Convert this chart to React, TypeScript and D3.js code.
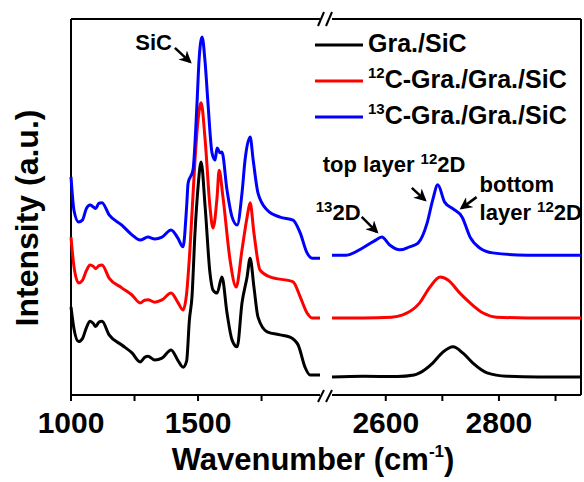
import * as d3 from 'd3'

// Raman spectra, intensity in a.u. (curves already stacked)
const blackLeft: [number, number][] = [
  [1000, 23.4], [1012, 17.5], [1030, 14.2], [1045, 15.0], [1060, 17.8], [1075, 19.6], [1088, 19.0],
  [1097, 18.2], [1110, 19.4], [1122, 19.6], [1150, 16.0], [1200, 13.3], [1240, 11.2], [1272, 8.8],
  [1290, 10.0], [1303, 10.3], [1330, 9.3], [1358, 9.8], [1394, 12.0], [1420, 9.3], [1441, 7.4],
  [1455, 9.0], [1466, 20.0], [1476, 26.0], [1488, 43.1], [1500, 55.3], [1512, 62.0], [1528, 50.0],
  [1547, 32.4], [1559, 27.9], [1575, 27.1], [1594, 31.4], [1614, 21.8], [1634, 14.6], [1654, 12.8],
  [1673, 24.5], [1693, 31.4], [1705, 36.4], [1720, 28.7], [1736, 20.7], [1772, 16.8], [1823, 16.0],
  [1862, 15.4], [1894, 13.3], [1921, 7.4], [1941, 5.3], [1980, 5.3]
]
const redLeft: [number, number][] = [
  [1000, 42.0], [1012, 34.0], [1030, 29.8], [1045, 30.5], [1060, 33.0], [1075, 34.6], [1088, 34.2],
  [1097, 33.6], [1110, 34.4], [1122, 34.6], [1150, 31.1], [1200, 28.5], [1240, 26.6], [1272, 24.5],
  [1290, 25.2], [1303, 25.3], [1330, 24.7], [1358, 25.3], [1394, 27.1], [1420, 24.7], [1441, 22.6],
  [1455, 27.0], [1468, 38.6], [1488, 62.5], [1500, 73.1], [1512, 77.7], [1528, 67.8], [1547, 50.0],
  [1559, 44.4], [1575, 52.7], [1583, 59.8], [1598, 52.7], [1626, 35.9], [1650, 28.7], [1673, 38.6],
  [1693, 47.3], [1705, 51.1], [1720, 43.1], [1744, 33.2], [1783, 31.4], [1874, 30.1], [1902, 26.1],
  [1929, 21.8], [1949, 20.5], [1980, 20.5]
]
const blueLeft: [number, number][] = [
  [1000, 58.0], [1012, 49.0], [1030, 46.0], [1045, 46.5], [1060, 49.5], [1075, 50.5], [1088, 50.0],
  [1097, 49.6], [1110, 51.0], [1122, 51.1], [1150, 47.9], [1200, 45.2], [1240, 42.6], [1272, 41.2],
  [1303, 42.0], [1330, 41.5], [1358, 42.0], [1394, 43.9], [1420, 41.8], [1441, 39.4], [1455, 50.0],
  [1461, 56.4], [1480, 59.8], [1496, 77.7], [1504, 89.1], [1516, 95.2], [1528, 88.3], [1539, 77.7],
  [1555, 64.4], [1567, 62.5], [1575, 65.7], [1587, 64.4], [1594, 64.6], [1614, 54.5], [1634, 47.3],
  [1654, 45.2], [1673, 53.7], [1685, 62.5], [1705, 68.6], [1717, 62.5], [1736, 53.7], [1772, 49.2],
  [1823, 47.3], [1874, 46.5], [1902, 43.1], [1929, 37.8], [1949, 36.4], [1980, 36.4]
]
const blackRight: [number, number][] = [
  [2505, 4.8], [2560, 5.0], [2620, 4.9], [2650, 5.3], [2660, 5.9], [2683, 8.5], [2701, 11.4],
  [2719, 12.8], [2736, 11.2], [2754, 8.5], [2779, 5.9], [2814, 5.0], [2870, 4.8], [2945, 4.8]
]
const redRight: [number, number][] = [
  [2505, 20.5], [2560, 20.5], [2610, 20.7], [2630, 21.3], [2660, 24.5], [2678, 28.7], [2696, 31.4],
  [2710, 30.6], [2731, 27.1], [2749, 24.5], [2772, 21.8], [2796, 20.7], [2850, 20.5], [2945, 20.5]
]
const blueRight: [number, number][] = [
  [2505, 37.2], [2530, 37.2], [2559, 39.1], [2580, 41.0], [2593, 42.0], [2607, 39.9], [2625, 38.6],
  [2642, 39.4], [2657, 40.4], [2673, 45.7], [2683, 51.9], [2692, 55.9], [2704, 51.3], [2719, 49.5],
  [2735, 47.3], [2749, 42.0], [2766, 39.1], [2789, 37.8], [2850, 37.2], [2945, 37.2]
]

const series = [
  { name: 'Gra./SiC', sup: '', color: '#000000', left: blackLeft, right: blackRight },
  { name: 'C-Gra./Gra./SiC', sup: '12', color: '#ff0000', left: redLeft, right: redRight },
  { name: 'C-Gra./Gra./SiC', sup: '13', color: '#0000ff', left: blueLeft, right: blueRight }
]

const leftTicks = [1000, 1500]
const leftMinor = [1250, 1750]
const rightTicks = [2600, 2800]
const rightMinor = [2700, 2900]

const font = '"Liberation Sans", Arial, sans-serif'

const App = () => {
  const width = 584
  const height = 482
  const top = 19
  const bottom = 395

  const xL = d3.scaleLinear().domain([1000, 1980]).range([71, 320])
  const xR = d3.scaleLinear().domain([2505, 2945]).range([332, 581])
  const y = d3.scaleLinear().domain([0, 100]).range([bottom, top])

  const lineL = d3.line<[number, number]>().x(d => xL(d[0])).y(d => y(d[1])).curve(d3.curveMonotoneX)
  const lineR = d3.line<[number, number]>().x(d => xR(d[0])).y(d => y(d[1])).curve(d3.curveMonotoneX)

  // annotation arrows: tip in data coords, tail offset in px
  const arrows = [
    { x: xL(1468), y: y(88.6), dx: -15, dy: -14 },
    { x: xR(2584), y: y(43.4), dx: -15, dy: -15 },
    { x: xR(2669), y: y(51.9), dx: -13, dy: -12 },
    { x: xR(2734), y: y(49.7), dx: 15, dy: -11 }
  ]

  const [l0, l1] = xL.range()
  const [r0, r1] = xR.range()

  return (
    <svg width={width} height={height} style={{ position: 'absolute', left: 0, top: 0 }}
      fontFamily={font} fontWeight="bold">
      <defs>
        <marker id="ah" viewBox="0 0 10 10" refX="8" refY="5" markerWidth="5" markerHeight="5"
          orient="auto" markerUnits="strokeWidth">
          <path d="M0,0 L10,5 L0,10 L3,5 z" fill="#000" />
        </marker>
      </defs>

      {/* frame */}
      <g stroke="#000" strokeWidth={2} fill="none">
        <line x1={l0} x2={l0} y1={top} y2={bottom} />
        <line x1={r1} x2={r1} y1={top} y2={bottom} />
        <line x1={l0} x2={l1} y1={top} y2={top} />
        <line x1={r0} x2={r1} y1={top} y2={top} />
        <line x1={l0} x2={l1} y1={bottom} y2={bottom} />
        <line x1={r0} x2={r1} y1={bottom} y2={bottom} />
        {/* axis break marks */}
        <line x1={l1 - 2} y1={top + 7} x2={l1 + 4} y2={top - 7} />
        <line x1={l1 + 6} y1={top + 7} x2={l1 + 12} y2={top - 7} />
        <line x1={l1 - 2} y1={bottom + 7} x2={l1 + 4} y2={bottom - 5} />
        <line x1={l1 + 6} y1={bottom + 7} x2={l1 + 12} y2={bottom - 5} />
        {leftTicks.concat(leftMinor).map(t => (
          <line key={'l' + t} x1={xL(t)} x2={xL(t)} y1={bottom} y2={bottom + 6} />
        ))}
        {rightTicks.concat(rightMinor).map(t => (
          <line key={'r' + t} x1={xR(t)} x2={xR(t)} y1={bottom} y2={bottom + 6} />
        ))}
      </g>

      {/* tick labels */}
      <g fontSize={30} textAnchor="middle" fill="#000">
        {leftTicks.map(t => <text key={t} x={xL(t)} y={433}>{t}</text>)}
        {rightTicks.map(t => <text key={t} x={xR(t)} y={433}>{t}</text>)}
      </g>

      {/* curves */}
      <g fill="none" strokeWidth={3} strokeLinejoin="round">
        {series.map((s, i) => (
          <g key={i} stroke={s.color}>
            <path d={lineL(s.left) || ''} />
            <path d={lineR(s.right) || ''} />
          </g>
        ))}
      </g>

      {/* axis titles */}
      <text x={313} y={470} fontSize={31} textAnchor="middle">
        Wavenumber (cm<tspan fontSize={17} dy={-13}>-1</tspan><tspan dy={13}>)</tspan>
      </text>
      <text transform="rotate(-90)" x={-218} y={38} fontSize={32} textAnchor="middle">
        Intensity (a.u.)
      </text>

      {/* legend */}
      {series.map((s, i) => {
        const ly = 45 + i * 36
        return (
          <g key={'lg' + i}>
            <line x1={315} x2={363} y1={ly} y2={ly} stroke={s.color} strokeWidth={3} />
            <text x={368} y={ly + 7} fontSize={25}>
              {s.sup && <tspan fontSize={15} dy={-10}>{s.sup}</tspan>}
              <tspan dy={s.sup ? 10 : 0}>{s.name}</tspan>
            </text>
          </g>
        )
      })}

      {/* annotations */}
      <g fontSize={22}>
        <text x={arrows[0].x - 18} y={arrows[0].y - 12} textAnchor="end">SiC</text>
        <text x={arrows[1].x - 61} y={arrows[1].y - 12}>
          <tspan fontSize={15} dy={-8}>13</tspan><tspan dy={8}>2D</tspan>
        </text>
        <text x={arrows[2].x - 102} y={arrows[2].y - 28}>
          top layer <tspan fontSize={15} dy={-8}>12</tspan><tspan dy={8}>2D</tspan>
        </text>
        <text x={arrows[3].x + 18} y={arrows[3].y - 16}>bottom</text>
        <text x={arrows[3].x + 18} y={arrows[3].y + 12}>
          layer <tspan fontSize={15} dy={-8}>12</tspan><tspan dy={8}>2D</tspan>
        </text>
      </g>
      <g stroke="#000" strokeWidth={2.5}>
        {arrows.map((a, i) => (
          <line key={'a' + i} x1={a.x + a.dx} y1={a.y + a.dy} x2={a.x} y2={a.y} markerEnd="url(#ah)" />
        ))}
      </g>
    </svg>
  )
}

export default App
